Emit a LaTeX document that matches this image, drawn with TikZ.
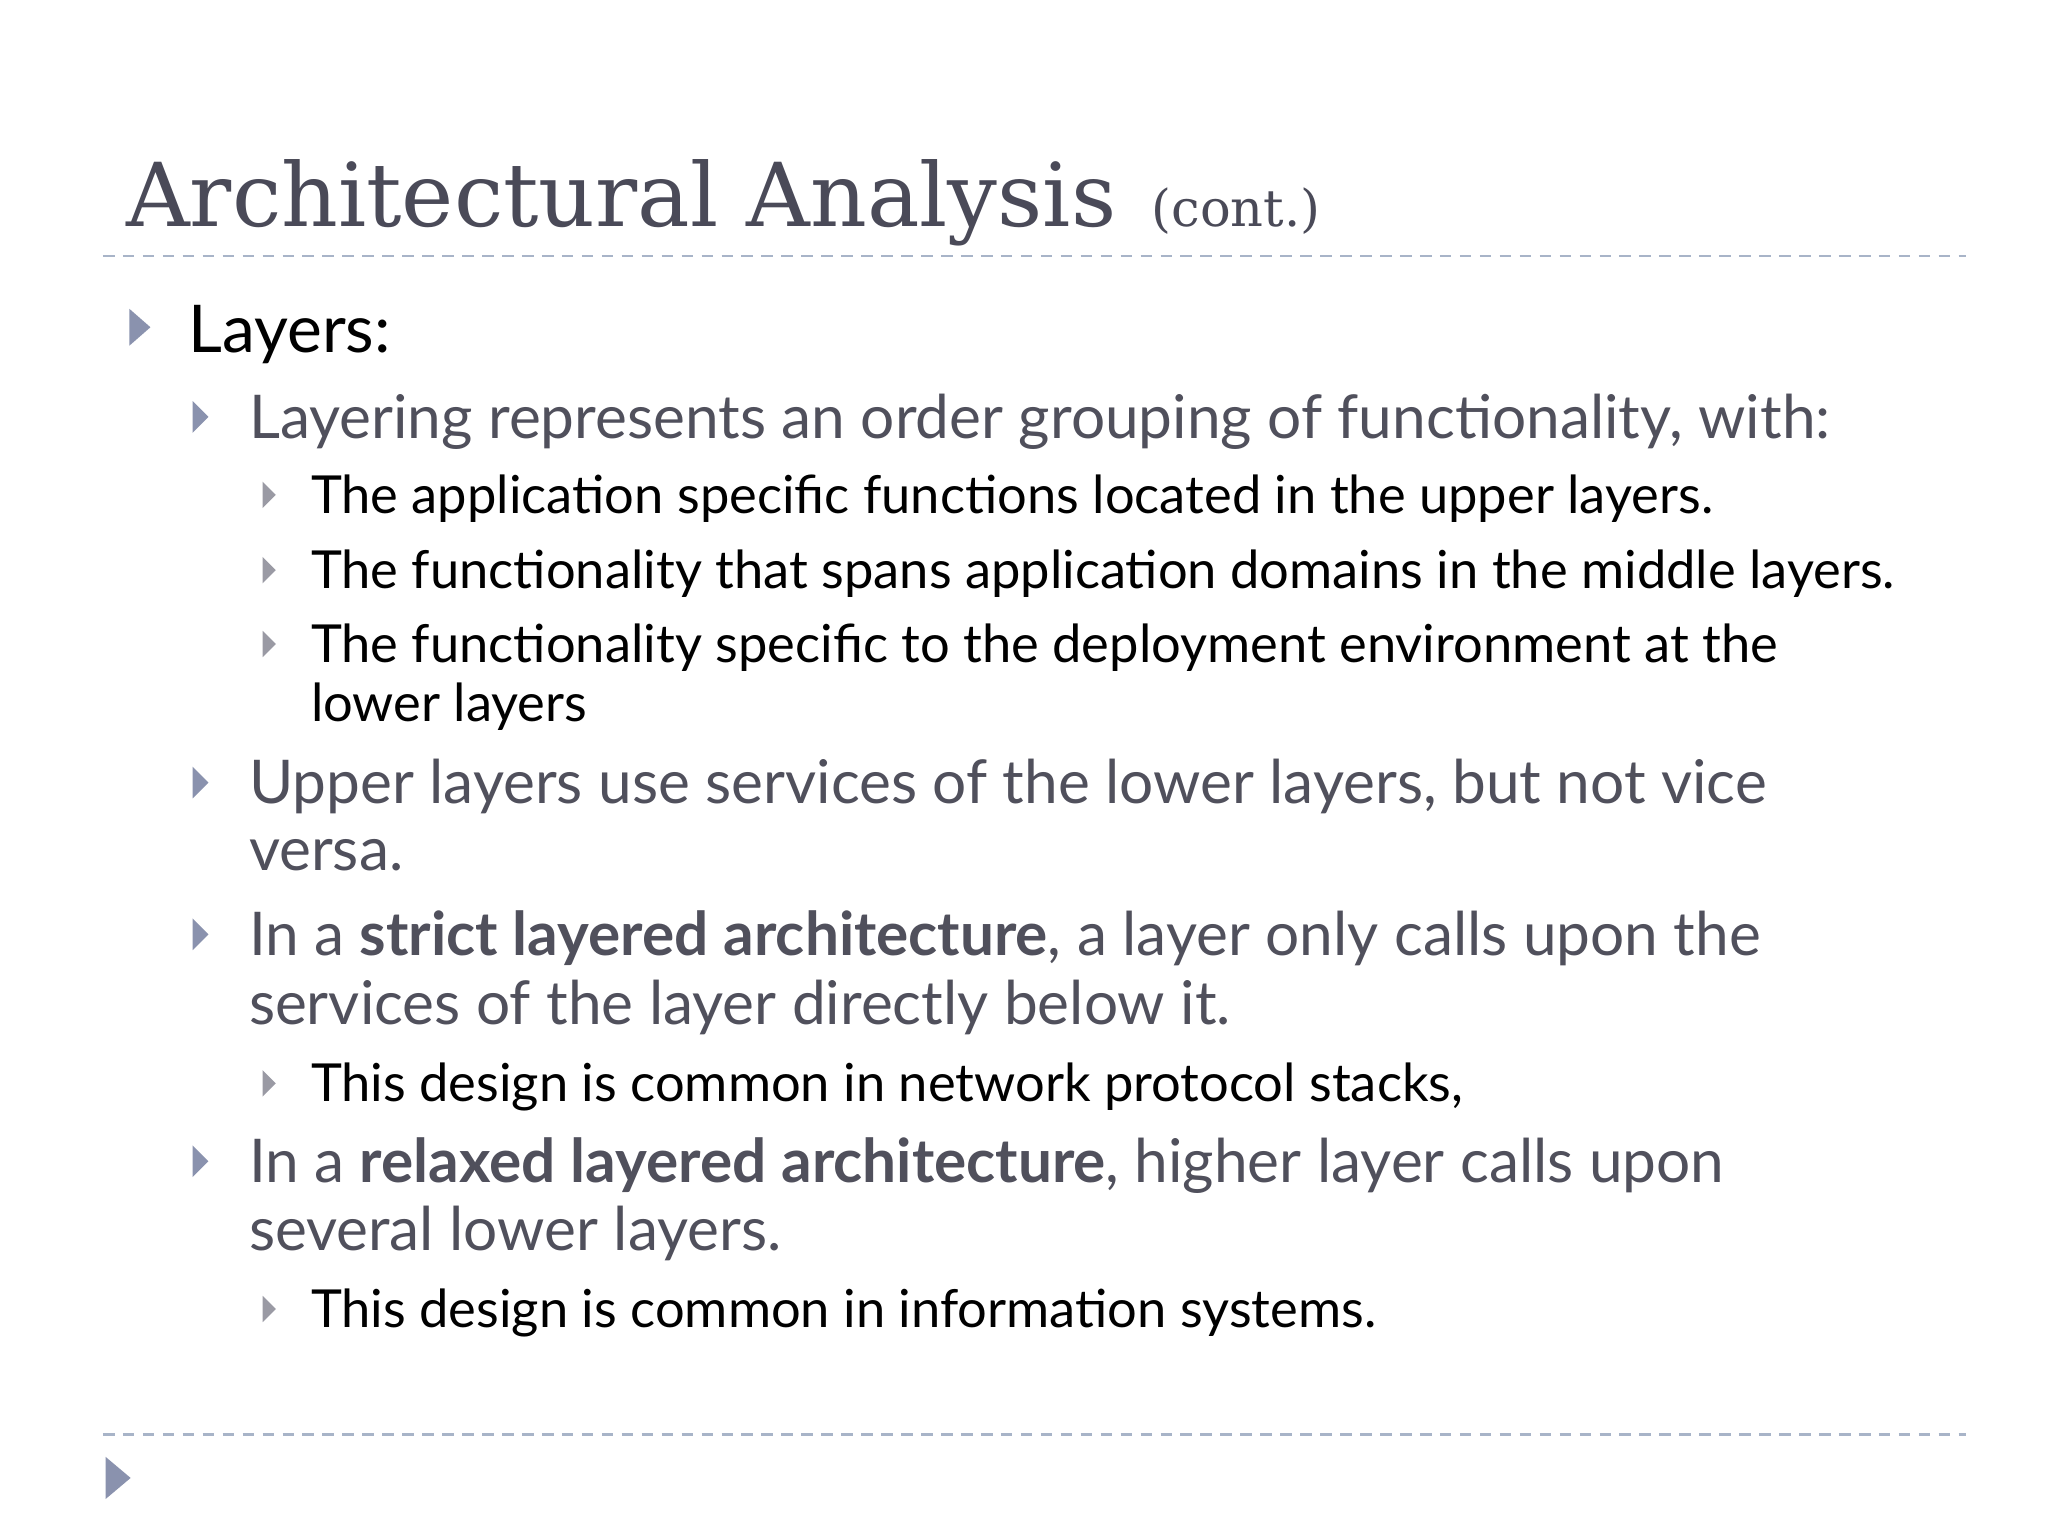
\documentclass[tikz,border=0pt]{standalone}
\usepackage{fontspec}
\setmainfont{Lato}
\newfontfamily\titlefont{DejaVu Serif}
\definecolor{titlec}{HTML}{4A4A58}
\definecolor{lvone}{HTML}{50505C}
\definecolor{bul}{HTML}{8A92AE}
\definecolor{bultwo}{HTML}{9A9AA4}
\definecolor{rule}{HTML}{A8B4C8}
\tikzset{
 t0/.style={anchor=base west,inner sep=0pt,font=\fontsize{14.2pt}{16pt}\selectfont,text=black},
 t1/.style={anchor=base west,inner sep=0pt,font=\fontsize{13pt}{15pt}\selectfont,text=lvone},
 t2/.style={anchor=base west,inner sep=0pt,font=\fontsize{11.3pt}{13pt}\selectfont,text=black},
 rl/.style={draw=rule,dashed,dash pattern=on 2.5pt off 1.8pt,line width=0.5pt},
}
\newcommand{\bulA}[2]{\fill[bul] (#1,#2-14) -- (#1+16,#2) -- (#1,#2+14) -- cycle;}
\newcommand{\bulB}[2]{\fill[bul] (#1,#2-12) -- (#1+12,#2) -- (#1,#2+12) -- cycle;}
\newcommand{\bulC}[2]{\fill[bultwo] (#1,#2-10) -- (#1+10,#2) -- (#1,#2+10) -- cycle;}
\begin{document}
\begin{tikzpicture}[x=0.01cm,y=-0.01cm]
\useasboundingbox (0,0) rectangle (1552,1164);
\fill[white] (0,0) rectangle (1552,1164);
\node[anchor=base west,inner sep=0pt,text=titlec,font=\titlefont\fontsize{19pt}{24pt}\selectfont] (title) at (95,172) {Architectural Analysis};
\node[anchor=base west,inner sep=0pt,text=titlec,font=\titlefont\fontsize{11pt}{14pt}\selectfont] (cont) at (872,172) {(cont.)};
\draw[rl] (78,194) -- (1490,194);
\draw[rl] (78,1087) -- (1490,1087);
\fill[bul] (80,1104) -- (99,1120) -- (80,1136) -- cycle;
\bulA{98}{248}
\node[t0] (l0) at (142,267) {Layers:};
\bulB{146}{316}
\node[t1] (a) at (188,332) {Layering represents an order grouping of functionality, with:};
\bulC{199}{375}
\node[t2] (a1) at (235,389) {The application specific functions located in the upper layers.};
\bulC{199}{432}
\node[t2] (a2) at (235,446) {The functionality that spans application domains in the middle layers.};
\bulC{199}{488}
\node[t2] (a3) at (235,502) {The functionality specific to the deployment environment at the};
\node[t2] (a3b) at (235,547) {lower layers};
\bulB{146}{593}
\node[t1] (b) at (188,609) {Upper layers use services of the lower layers, but not vice};
\node[t1] (bb) at (188,660) {versa.};
\bulB{146}{708}
\node[t1] (c) at (188,724) {In a \textbf{strict layered architecture}, a layer only calls upon the};
\node[t1] (cc) at (188,776) {services of the layer directly below it.};
\bulC{199}{821}
\node[t2] (c1) at (235,835) {This design is common in network protocol stacks,};
\bulB{146}{880}
\node[t1] (d) at (188,896) {In a \textbf{relaxed layered architecture}, higher layer calls upon};
\node[t1] (dd) at (188,948) {several lower layers.};
\bulC{199}{992}
\node[t2] (d1) at (235,1006) {This design is common in information systems.};
\end{tikzpicture}
\end{document}
